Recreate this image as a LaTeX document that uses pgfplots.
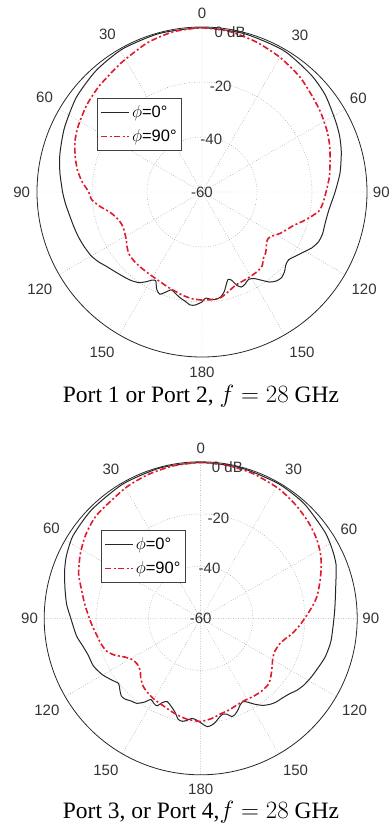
\documentclass[border=0pt]{standalone}
\usepackage{pgfplots}
\pgfplotsset{compat=1.18}
\usepackage{pgfplotstable}
\usepgfplotslibrary{polar}
\usepackage{fontspec}
\setmainfont{Liberation Serif}
\newfontfamily\labelfont{Liberation Sans}
\definecolor{patred}{RGB}{225,25,45}

% Radiation patterns: t = elevation angle (deg, 0 = broadside, + clockwise), g = gain (dB)
\pgfplotstableread{
t g
-180 -20.0
-176.5 -18.8
-174 -18.7
-171 -19.9
-168 -20.8
-165 -22.0
-162.5 -22.7
-160 -21.2
-157.5 -19.8
-155 -21.0
-152.5 -23.6
-150.5 -23.2
-148 -21.5
-145 -19.8
-141 -18.7
-137 -18.0
-132 -17.0
-128 -16.0
-124 -14.6
-120 -13.5
-115 -12.8
-110 -12.2
-105 -11.7
-100 -11.1
-95 -10.2
-90 -9.3
-82 -7.8
-75 -6.5
-65 -4.8
-53 -2.8
-41 -1.4
-29 -0.5
-15 -0.3
0 -0.3
15 -0.4
30 -0.6
43 -1.8
52 -3.0
62 -5.0
68 -6.0
74 -7.3
82 -9.3
90 -11.6
98 -13.4
104 -13.8
109 -13.6
113 -13.9
117 -15.2
120 -16.8
124 -18.6
128 -20.0
131 -19.6
134 -18.3
137 -17.5
140 -17.8
143 -19.0
146 -21.3
149 -23.3
152 -24.0
155 -23.0
157.5 -22.6
159.5 -23.8
161.5 -26.2
163.5 -26.8
165.5 -25.0
167.5 -22.8
170 -21.2
173 -20.6
176 -21.0
178 -21.4
180 -20.0
}\portAphiA

\pgfplotstableread{
t g
-180 -20.7
-175 -21.0
-170 -21.7
-165 -22.6
-160 -23.3
-155 -24.0
-150 -24.4
-145 -24.6
-140 -24.7
-135 -24.8
-130 -25.2
-126 -26.3
-122 -27.5
-118 -28.2
-114 -28.6
-110 -28.3
-106 -27.3
-102 -25.5
-98 -22.5
-94 -19.8
-90 -18.8
-85 -16.2
-80 -14.0
-74 -12.0
-68 -10.2
-62 -9.0
-53 -7.5
-44 -6.3
-32 -4.6
-20 -2.2
-10 -0.8
0 -0.3
10 -0.8
20 -2.0
30 -3.4
40 -5.0
48 -6.7
56 -8.0
64 -9.4
70 -10.6
76 -12.0
83 -13.3
90 -14.9
95 -15.8
99 -16.8
102 -18.8
106 -21.7
110 -24.5
114 -26.3
118 -27.9
122 -29.8
125 -30.6
128 -30.2
131 -29.0
134 -27.9
137 -27.2
141 -25.3
145 -24.8
150 -24.6
155 -24.4
160 -24.0
165 -22.6
170 -21.0
175 -20.7
180 -20.7
}\portAphiB

\pgfplotstableread{
t g
-180 -20.0
-177.5 -21.0
-175 -21.5
-172.5 -20.6
-170 -19.9
-167.5 -20.3
-164.5 -22.8
-161 -24.6
-158 -25.6
-155.5 -24.5
-153.5 -22.5
-151 -22.8
-148.5 -23.5
-146 -21.2
-143 -19.2
-140 -18.6
-137 -17.6
-134.5 -17.4
-131.5 -18.6
-128.5 -19.8
-125 -18.6
-120 -16.6
-114 -15.0
-108 -14.6
-103 -13.5
-98 -11.9
-90 -10.2
-84 -8.3
-77.5 -6.7
-71 -4.8
-65 -3.2
-57 -1.7
-45 -1.0
-30 -0.5
-15 -0.3
0 -0.3
15 -0.3
30 -0.4
42 -0.8
55 -2.0
62 -3.0
68.5 -4.2
77.5 -7.0
84 -8.2
90 -8.9
100 -9.3
107 -10.0
112 -11.0
118 -12.0
123 -12.9
127 -14.0
130 -15.2
134 -16.2
138 -16.8
141 -17.6
144.5 -19.0
148 -21.2
150.5 -23.0
153 -24.2
155.5 -23.5
158 -22.0
160.5 -20.8
162.5 -20.5
164.5 -21.8
167 -22.3
169.5 -21.3
172 -19.7
174.5 -18.7
176.5 -18.4
178.5 -19.2
180 -20.0
}\portBphiA

\pgfplotstableread{
t g
-180 -20.4
-172 -21.0
-164 -22.3
-157 -23.5
-150 -24.2
-145 -24.9
-140 -25.8
-135 -27.5
-131 -29.3
-126 -30.0
-121 -29.3
-117 -27.3
-113 -24.0
-109 -21.7
-104 -20.5
-99 -19.6
-95 -18.6
-90 -17.3
-83 -15.2
-76 -12.8
-70 -10.2
-62 -7.7
-54 -5.5
-45 -3.8
-30 -2.3
-20 -1.3
-10 -0.6
0 -0.3
10 -0.5
20 -1.0
31 -2.0
40 -3.3
48 -4.6
55 -6.0
61 -7.6
66 -9.4
72 -11.8
79 -14.5
84 -17.0
90 -20.1
95 -22.4
100 -24.7
104 -26.8
108 -28.2
114 -28.9
119 -28.4
123 -27.3
126 -26.3
129 -25.3
132 -24.3
135 -23.7
140 -23.6
146 -23.9
152 -24.3
158 -23.9
163 -23.2
168 -22.6
174 -21.3
180 -20.4
}\portBphiB

\tikzset{
  tlab/.style={font=\labelfont\fontsize{15}{17}\selectfont, text=black!80, inner sep=0pt},
  caption/.style={font=\fontsize{23.5}{26}\selectfont, inner sep=0pt, anchor=base},
}

\pgfplotsset{
  pattern axis/.style={
    scale only axis, clip=false,
    xmin=0, xmax=360, ymin=0, ymax=60,
    xtick={0,30,...,330}, ytick={20,40},
    xticklabels={}, yticklabels={},
    major tick length=0pt,
    grid=major,
    major grid style={gray!80, line width=0.45pt, dash pattern=on 0.7pt off 1.8pt},
    x axis line style={black!85, line width=0.8pt},
    y axis line style={draw=none},
    legend cell align=left,
    legend style={draw=black!75, line width=0.7pt, fill=white,
      font=\labelfont\fontsize{16.5}{19}\selectfont,
      row sep=7pt, inner xsep=3pt, inner ysep=5pt, anchor=north west},
    legend image code/.code={\draw[##1] (0pt,0pt) -- (28pt,0pt);},
  },
  phi0/.style={draw=black!85, line width=1pt, smooth, tension=0.4},
  phi90/.style={draw=patred, line width=1.6pt, smooth, tension=0.4,
    dash pattern=on 6pt off 2.5pt on 2pt off 2.5pt},
}

% angle labels (elevation shown as |theta|) and radial dB labels
\newcommand{\patternlabels}{%
  \node[tlab] at (axis cs:90,65) {0};
  \node[tlab] at (axis cs:58,67.2) {30};
  \node[tlab] at (axis cs:31,66.3) {60};
  \node[tlab] at (axis cs:0,65.2) {90};
  \node[tlab] at (axis cs:329,68.8) {120};
  \node[tlab] at (axis cs:302,68.6) {150};
  \node[tlab] at (axis cs:270,65.4) {180};
  \node[tlab] at (axis cs:238,68.6) {150};
  \node[tlab] at (axis cs:211,68.8) {120};
  \node[tlab] at (axis cs:180,65.6) {90};
  \node[tlab] at (axis cs:149,66.8) {60};
  \node[tlab] at (axis cs:121,66.8) {30};
  \node[tlab] at (axis cs:0,0) {-60};
  \node[tlab] at (axis cs:80,19.5) {-40};
  \node[tlab] at (axis cs:80,39) {-20};
  \node[tlab] at (axis cs:80,59) {0 dB};
}

\begin{document}
\begin{tikzpicture}
\path[use as bounding box] (0,0) rectangle (391pt,-827pt);

\begin{polaraxis}[pattern axis, width=330pt, height=330pt,
    at={(202pt,-192pt)}, anchor=center,
    legend style={at={(0.182,0.785)}}]
  \addplot[phi0] table[x expr={90-\thisrow{t}}, y expr={\thisrow{g}+60}] {\portAphiA};
  \addlegendentry{$\phi$=0°}
  \addplot[phi90] table[x expr={90-\thisrow{t}}, y expr={\thisrow{g}+60}] {\portAphiB};
  \addlegendentry{$\phi$=90°}
  \patternlabels
\end{polaraxis}
\node[caption] at (201pt,-402pt) {Port 1 or Port 2, $f = 28$ GHz};

\begin{polaraxis}[pattern axis, width=313pt, height=313pt,
    at={(200.7pt,-618.3pt)}, anchor=center,
    legend style={at={(0.181,0.782)}}]
  \addplot[phi0] table[x expr={90-\thisrow{t}}, y expr={\thisrow{g}+60}] {\portBphiA};
  \addlegendentry{$\phi$=0°}
  \addplot[phi90] table[x expr={90-\thisrow{t}}, y expr={\thisrow{g}+60}] {\portBphiB};
  \addlegendentry{$\phi$=90°}
  \patternlabels
\end{polaraxis}
\node[caption] at (201pt,-818.5pt) {Port 3, or Port 4,$f = 28$ GHz};
\end{tikzpicture}
\end{document}
